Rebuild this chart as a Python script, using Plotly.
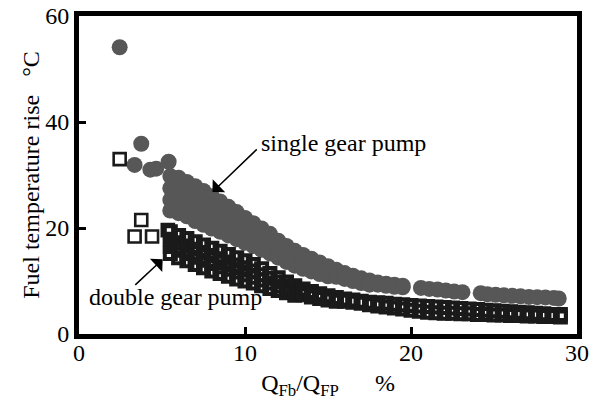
import plotly.graph_objects as go

# ---- data ----
single_iso_x = [2.45, 3.75, 3.35, 4.3, 4.65, 5.4]
single_iso_y = [54.1, 35.9, 31.9, 31.0, 31.2, 32.5]

single_col_x = [5.5, 6.0, 6.5, 7.0, 7.5, 8.0, 8.5, 9.0, 9.5, 10.0, 10.5, 11.0, 11.5,
                12.0, 12.5, 13.0, 13.5, 14.0, 14.5, 15.0, 15.5, 16.0, 16.5, 17.0,
                17.5, 18.0, 18.5, 19.0, 19.5, 20.6, 21.1, 21.6, 22.1, 22.6, 23.1,
                24.2, 24.6, 25.1, 25.6, 26.1, 26.6, 27.1, 27.6, 28.1, 28.6, 28.9]
single_col_y = [[29.8, 27.5, 25.3, 23.3], [29.5, 27.4, 25.2, 22.8], [28.7, 26.7, 24.6, 22.2],
                [27.9, 25.9, 23.9, 21.3], [27.0, 25.1, 23.1, 20.6], [26.0, 24.3, 22.3, 19.9],
                [25.0, 23.4, 21.6, 19.3], [24.0, 22.5, 20.8, 18.6], [23.0, 21.5, 20.0, 17.9],
                [21.9, 20.5, 19.1, 17.2], [20.9, 19.6, 18.3, 16.6], [19.9, 18.7, 17.4, 15.9],
                [18.9, 17.8, 16.6, 15.2], [17.6, 16.6, 15.6, 14.4], [16.6, 15.7, 14.8, 13.6],
                [15.7, 14.9, 14.0, 12.9], [14.9, 14.1, 13.3, 12.3], [14.2, 13.5, 12.7, 11.8],
                [13.5, 12.8, 12.1, 11.3], [12.8, 12.2, 11.5, 10.9], [12.1, 11.5, 10.8],
                [11.5, 10.9, 10.4], [11.0, 10.4, 10.0], [10.5, 10.0, 9.6], [10.1, 9.6, 9.3],
                [9.7, 9.3], [9.5, 9.1], [9.3, 8.9], [9.1, 8.8], [8.7], [8.5], [8.4], [8.2],
                [8.0], [7.9], [7.7], [7.5], [7.4], [7.3], [7.2], [7.1], [7.0], [6.95],
                [6.9], [6.8], [6.7]]

double_iso_x = [2.45, 3.75, 3.35, 4.4, 5.35]
double_iso_y = [33.0, 21.5, 18.4, 18.4, 19.6]

double_col_x = [5.5, 6.0, 6.5, 7.0, 7.5, 8.0, 8.5, 9.0, 9.5, 10.0, 10.5, 11.0, 11.5,
                12.0, 12.5, 13.0, 13.5, 14.0, 14.5, 15.0, 15.5, 16.0, 16.5, 17.0, 17.5,
                18.0, 18.5, 19.0, 19.5, 20.0, 20.5, 21.0, 21.5, 22.0, 22.5, 23.0, 23.5,
                24.0, 24.5, 25.0, 25.5, 26.0, 26.5, 27.0, 27.5, 28.0, 28.5, 29.0]
double_col_y = [[19.3, 17.9, 16.5, 15.2], [18.6, 17.2, 15.8, 14.4], [18.0, 16.6, 15.2, 13.8],
                [17.4, 16.0, 14.5, 13.1], [16.8, 15.4, 13.9, 12.5], [16.2, 14.8, 13.3, 11.9],
                [15.6, 14.2, 12.7, 11.4], [15.0, 13.6, 12.2, 10.9], [14.4, 13.0, 11.7, 10.4],
                [13.8, 12.5, 11.2, 10.0], [13.1, 11.9, 10.7, 9.6], [12.3, 11.2, 10.2, 9.1],
                [11.4, 10.5, 9.6, 8.6], [10.6, 9.8, 9.0, 8.2], [9.8, 9.1, 8.4, 7.8],
                [9.1, 8.5, 7.9, 7.3], [8.5, 8.0, 7.4], [8.0, 7.5, 7.0], [7.6, 7.1, 6.7],
                [7.2, 6.8, 6.4], [6.9, 6.5, 6.2], [6.6, 6.2], [6.4, 6.0], [6.2, 5.8],
                [6.0, 5.5], [5.9, 5.3], [5.8, 5.1], [5.6, 4.9], [5.5, 4.7], [5.4, 4.5],
                [5.3, 4.3], [5.2, 4.1], [5.1, 4.0], [5.0, 3.9], [4.9, 3.9], [4.8, 3.8],
                [4.7, 3.8], [4.6, 3.7], [4.5, 3.7], [4.4, 3.6], [4.3, 3.6], [4.2, 3.5],
                [4.1, 3.5], [4.0, 3.4], [3.9, 3.4], [3.8, 3.3], [3.7, 3.3], [3.7, 3.2]]

x_ticks = [0, 10, 20, 30]
y_ticks = [0, 20, 40, 60]

# ---- build flat series ----
single_x = list(single_iso_x)
single_y = list(single_iso_y)
for cx, ys in zip(single_col_x, single_col_y):
    for yv in ys:
        single_x.append(cx)
        single_y.append(yv)

band_x, band_y = [], []
for cx, ys in zip(double_col_x, double_col_y):
    for yv in ys:
        band_x.append(cx)
        band_y.append(yv)

FONT = "Tinos"
FS = 24

fig = go.Figure()
fig.add_trace(go.Scatter(
    x=single_x, y=single_y, mode="markers", name="single gear pump",
    marker=dict(symbol="circle", size=16, color="#575757", line=dict(width=0)),
))
fig.add_trace(go.Scatter(
    x=double_iso_x, y=double_iso_y, mode="markers", name="double gear pump",
    marker=dict(symbol="square-open", size=12, color="#1a1a1a",
                line=dict(width=2.6, color="#1a1a1a")),
))
fig.add_trace(go.Scatter(
    x=band_x, y=band_y, mode="markers", name="double gear pump",
    marker=dict(symbol="square-open", size=11, color="#1a1a1a",
                line=dict(width=4, color="#1a1a1a")),
))

nb = "\u00a0"
fig.update_layout(
    width=596, height=400,
    margin=dict(l=79, r=19, t=16, b=66),
    paper_bgcolor="white", plot_bgcolor="white",
    showlegend=False,
    font=dict(family=FONT, size=FS, color="black"),
    xaxis=dict(
        range=[0, 30], tickvals=x_ticks, ticktext=[str(v) for v in x_ticks],
        ticks="inside", ticklen=7, tickwidth=3, tickcolor="black",
        ticklabelstandoff=-7,
        showline=True, linewidth=5, linecolor="black", mirror=True,
        showgrid=False, zeroline=False, automargin=False,
        title=dict(text="Q<sub>Fb</sub>/Q<sub>FP</sub>" + nb * 6 + "%",
                   font=dict(family=FONT, size=FS), standoff=11),
        tickfont=dict(family=FONT, size=FS),
    ),
    yaxis=dict(
        range=[0, 60], tickvals=y_ticks, ticktext=[str(v) for v in y_ticks],
        ticks="inside", ticklen=7, tickwidth=3, tickcolor="black",
        showline=True, linewidth=5, linecolor="black", mirror=True,
        showgrid=False, zeroline=False, automargin=False,
        title=dict(text="Fuel temperature rise" + nb * 3 + "°C",
                   font=dict(family=FONT, size=FS), standoff=0),
        tickfont=dict(family=FONT, size=FS),
    ),
)

# labels
fig.add_annotation(x=15.93, y=36.0, xref="x", yref="y", text="single gear pump",
                   showarrow=False, font=dict(family=FONT, size=FS, color="black"))
fig.add_annotation(x=5.79, y=6.9, xref="x", yref="y", text="double gear pump",
                   showarrow=False, font=dict(family=FONT, size=FS, color="black"))
# arrows
fig.add_annotation(x=8.04, y=26.8, ax=10.8, ay=35.1, xref="x", yref="y",
                   axref="x", ayref="y", text="", showarrow=True,
                   arrowhead=1, arrowsize=2.0, arrowwidth=1.5, arrowcolor="black")
fig.add_annotation(x=5.04, y=14.1, ax=3.3, ay=9.0, xref="x", yref="y",
                   axref="x", ayref="y", text="", showarrow=True,
                   arrowhead=1, arrowsize=2.0, arrowwidth=1.5, arrowcolor="black")

fig.write_html("out.html", config={"displayModeBar": False},
               post_script="document.body.style.margin='0';document.body.style.padding='0';")
